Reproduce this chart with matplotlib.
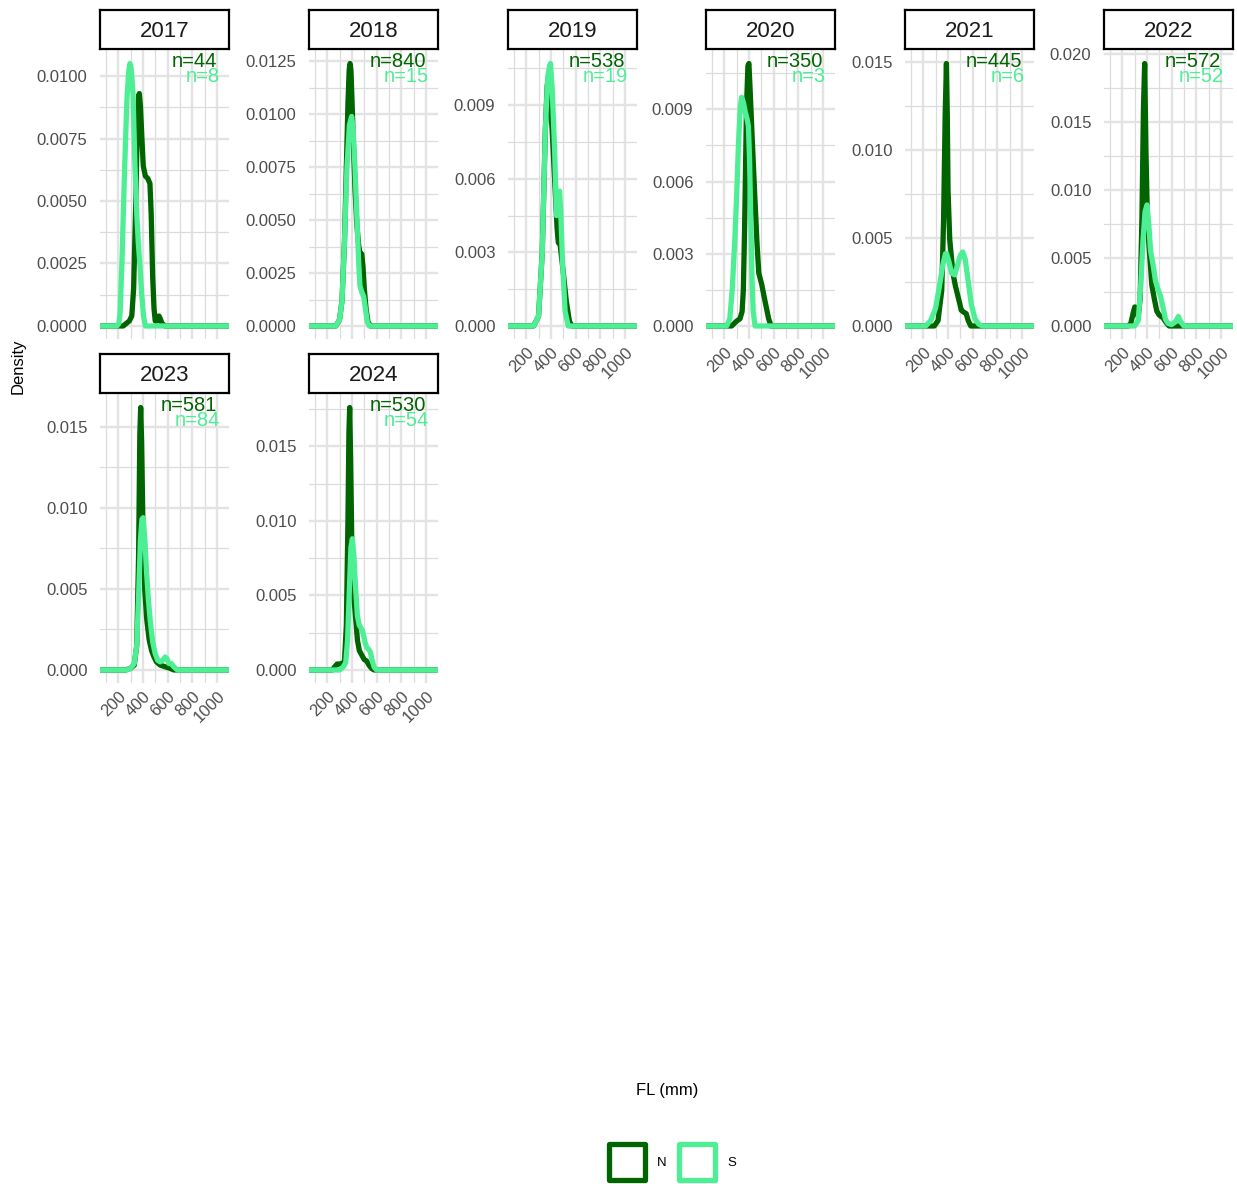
import matplotlib.pyplot as plt
from matplotlib.patches import Rectangle
from matplotlib.ticker import FixedLocator

plt.rcParams['font.family'] = ['Liberation Sans', 'DejaVu Sans']

years = [2017, 2018, 2019, 2020, 2021, 2022, 2023, 2024]
n_north = [44, 840, 538, 350, 445, 572, 581, 530]
n_south = [8, 15, 19, 3, 6, 52, 84, 54]

# density of fork length (mm), north and south, per year
fl_n_2017 = [50, 240, 290, 310, 325, 340, 355, 365, 371, 380, 392, 403, 420, 440, 457, 467, 479, 490, 500, 515, 530, 540, 555, 580, 1100]
dens_n_2017 = [0, 0, 0.0002, 0.0004, 0.0015, 0.0045, 0.0080, 0.0092, 0.0093, 0.0088, 0.0075, 0.0064, 0.006, 0.0059, 0.0057, 0.0045, 0.002, 0.0007, 0.0002, 0.0002, 0.0004, 0.0003, 0.0001, 0, 0]
fl_s_2017 = [50, 190, 205, 215, 230, 250, 270, 285, 295, 305, 320, 335, 350, 363, 375, 390, 405, 420, 1100]
dens_s_2017 = [0, 0, 0.0001, 0.0005, 0.0025, 0.006, 0.009, 0.0102, 0.0105, 0.0103, 0.0093, 0.0065, 0.0045, 0.0033, 0.0025, 0.0013, 0.0004, 0, 0]

fl_n_2018 = [50, 270, 300, 320, 340, 355, 368, 378, 385, 392, 400, 410, 425, 440, 455, 470, 480, 490, 500, 515, 530, 550, 1100]
dens_n_2018 = [0, 0, 0.0003, 0.0012, 0.004, 0.0075, 0.0105, 0.0121, 0.0124, 0.0121, 0.0108, 0.009, 0.0065, 0.0048, 0.0038, 0.0033, 0.0034, 0.0028, 0.0018, 0.0008, 0.0002, 0, 0]
fl_s_2018 = [50, 270, 300, 320, 340, 360, 380, 398, 410, 425, 440, 455, 465, 480, 495, 510, 525, 540, 1100]
dens_s_2018 = [0, 0, 0.0003, 0.0012, 0.004, 0.0075, 0.0095, 0.0099, 0.0093, 0.0075, 0.0052, 0.003, 0.0019, 0.0016, 0.0014, 0.0008, 0.0002, 0, 0]

fl_n_2019 = [50, 260, 300, 330, 355, 370, 377, 390, 410, 430, 450, 460, 475, 500, 525, 550, 570, 1100]
dens_n_2019 = [0, 0, 0.0004, 0.003, 0.008, 0.0098, 0.0100, 0.0095, 0.008, 0.006, 0.0040, 0.0034, 0.0033, 0.0022, 0.001, 0.0002, 0, 0]
fl_s_2019 = [50, 260, 300, 330, 355, 375, 390, 396, 410, 430, 445, 460, 470, 480, 495, 515, 540, 1100]
dens_s_2019 = [0, 0, 0.0004, 0.003, 0.008, 0.0102, 0.0106, 0.0107, 0.0097, 0.0072, 0.0045, 0.0050, 0.0055, 0.0046, 0.0025, 0.0006, 0, 0]

fl_n_2020 = [50, 260, 300, 328, 345, 355, 365, 380, 392, 400, 410, 425, 445, 465, 480, 490, 505, 520, 540, 560, 580, 1100]
dens_n_2020 = [0, 0, 0.0002, 0.0003, 0.0006, 0.0015, 0.004, 0.009, 0.0108, 0.0109, 0.0098, 0.008, 0.0057, 0.0035, 0.0022, 0.0020, 0.0017, 0.0013, 0.0008, 0.0003, 0, 0]
fl_s_2020 = [50, 220, 245, 265, 285, 300, 315, 330, 341, 355, 370, 385, 396, 405, 415, 425, 435, 450, 1100]
dens_s_2020 = [0, 0, 0.0003, 0.0015, 0.0035, 0.0053, 0.0075, 0.0091, 0.0095, 0.0093, 0.0089, 0.0086, 0.0083, 0.007, 0.0045, 0.002, 0.0006, 0, 0]

fl_n_2021 = [50, 290, 320, 350, 365, 378, 388, 395, 401, 415, 441, 460, 481, 495, 508, 525, 548, 565, 585, 1100]
dens_n_2021 = [0, 0, 0.0003, 0.002, 0.006, 0.012, 0.0149, 0.012, 0.0077, 0.0049, 0.003, 0.0023, 0.0017, 0.0013, 0.0009, 0.0008, 0.0007, 0.0003, 0, 0]
fl_s_2021 = [50, 220, 260, 300, 330, 360, 380, 390, 410, 430, 455, 480, 500, 520, 540, 565, 590, 620, 650, 680, 1100]
dens_s_2021 = [0, 0, 0.0003, 0.001, 0.0022, 0.0035, 0.0041, 0.0041, 0.0036, 0.003, 0.0029, 0.0035, 0.004, 0.0042, 0.0038, 0.0025, 0.0012, 0.0004, 0.0001, 0, 0]

fl_n_2022 = [50, 250, 270, 290, 302, 315, 330, 345, 360, 372, 382, 392, 405, 422, 440, 460, 480, 500, 530, 560, 580, 1100]
dens_n_2022 = [0, 0, 0.0002, 0.0010, 0.0014, 0.001, 0.0007, 0.002, 0.008, 0.016, 0.0193, 0.013, 0.0075, 0.0053, 0.003, 0.002, 0.0011, 0.0008, 0.0006, 0.0002, 0, 0]
fl_s_2022 = [50, 300, 330, 350, 370, 385, 401, 415, 430, 450, 470, 490, 510, 530, 550, 570, 600, 630, 655, 675, 700, 1100]
dens_s_2022 = [0, 0, 0.0004, 0.003, 0.0065, 0.0084, 0.0089, 0.0075, 0.0055, 0.0045, 0.0033, 0.0027, 0.0022, 0.0014, 0.0005, 0.0002, 0.0001, 0.0003, 0.0007, 0.0003, 0, 0]

fl_n_2023 = [50, 260, 300, 330, 350, 365, 375, 382, 390, 400, 415, 430, 450, 470, 490, 510, 540, 580, 620, 650, 1100]
dens_n_2023 = [0, 0, 0.0001, 0.0003, 0.0015, 0.007, 0.0145, 0.0162, 0.014, 0.009, 0.005, 0.0032, 0.0019, 0.0012, 0.0008, 0.0005, 0.0003, 0.0002, 0.0001, 0, 0]
fl_s_2023 = [50, 270, 300, 330, 350, 365, 380, 392, 402, 415, 430, 445, 460, 480, 500, 520, 540, 560, 580, 595, 610, 630, 650, 680, 710, 1100]
dens_s_2023 = [0, 0, 0.0001, 0.0004, 0.0015, 0.0045, 0.008, 0.0093, 0.0094, 0.0082, 0.006, 0.0043, 0.003, 0.0017, 0.001, 0.0006, 0.0005, 0.0006, 0.0008, 0.0007, 0.0004, 0.0004, 0.0002, 0, 0, 0]

fl_n_2024 = [50, 240, 260, 280, 300, 320, 340, 355, 368, 376, 382, 390, 400, 415, 430, 445, 460, 480, 500, 520, 540, 560, 580, 1100]
dens_n_2024 = [0, 0, 0.0002, 0.0004, 0.0004, 0.0004, 0.0006, 0.003, 0.010, 0.016, 0.0176, 0.014, 0.008, 0.005, 0.0035, 0.002, 0.0013, 0.001, 0.0007, 0.0006, 0.0003, 0.0001, 0, 0]
fl_s_2024 = [50, 300, 330, 350, 365, 380, 392, 404, 415, 430, 445, 460, 475, 490, 505, 520, 535, 550, 565, 580, 600, 1100]
dens_s_2024 = [0, 0, 0.0002, 0.0005, 0.002, 0.0055, 0.0082, 0.0088, 0.0078, 0.0055, 0.0036, 0.003, 0.0028, 0.0025, 0.0019, 0.0015, 0.0014, 0.0012, 0.0006, 0.0002, 0, 0]

north = {
    2017: (fl_n_2017, dens_n_2017), 2018: (fl_n_2018, dens_n_2018),
    2019: (fl_n_2019, dens_n_2019), 2020: (fl_n_2020, dens_n_2020),
    2021: (fl_n_2021, dens_n_2021), 2022: (fl_n_2022, dens_n_2022),
    2023: (fl_n_2023, dens_n_2023), 2024: (fl_n_2024, dens_n_2024),
}
south = {
    2017: (fl_s_2017, dens_s_2017), 2018: (fl_s_2018, dens_s_2018),
    2019: (fl_s_2019, dens_s_2019), 2020: (fl_s_2020, dens_s_2020),
    2021: (fl_s_2021, dens_s_2021), 2022: (fl_s_2022, dens_s_2022),
    2023: (fl_s_2023, dens_s_2023), 2024: (fl_s_2024, dens_s_2024),
}

# free y scales: breaks and label precision per panel
y_breaks = {
    2017: [0, 0.0025, 0.005, 0.0075, 0.01],
    2018: [0, 0.0025, 0.005, 0.0075, 0.01, 0.0125],
    2019: [0, 0.003, 0.006, 0.009],
    2020: [0, 0.003, 0.006, 0.009],
    2021: [0, 0.005, 0.01, 0.015],
    2022: [0, 0.005, 0.01, 0.015, 0.02],
    2023: [0, 0.005, 0.01, 0.015],
    2024: [0, 0.005, 0.01, 0.015],
}
y_digits = {2017: 4, 2018: 4, 2019: 3, 2020: 3, 2021: 3, 2022: 3, 2023: 3, 2024: 3}
x_breaks = [200, 400, 600, 800, 1000]
x_minor = [100, 300, 500, 700, 900]

col_n = '#006400'
col_s = '#4EEE94'
text_col = '#4D4D4D'

W, H = 1237, 1184
fig = plt.figure(figsize=(W / 100, H / 100), dpi=100)


def px_axes(left, top, w, h):
    return fig.add_axes([left / W, 1 - (top + h) / H, w / W, h / H])


col_left = [100, 309, 508, 706, 905, 1104]
row_top = [50.4, 394.4]
pw, ph = 129, 288.7
has_xlabels = {2019, 2020, 2021, 2022, 2023, 2024}

for i, yr in enumerate(years):
    r, c = divmod(i, 6)
    left, top = col_left[c], row_top[r]
    ax = px_axes(left, top, pw, ph)

    xn, yn = north[yr]
    xs, ys = south[yr]
    ax.plot(xn, yn, color=col_n, lw=3.8, solid_capstyle='round', solid_joinstyle='round')
    ax.plot(xs, ys, color=col_s, lw=3.8, solid_capstyle='round', solid_joinstyle='round')
    ax.set_xlim(52.5, 1097.5)
    ax.margins(y=0.05)

    yb = y_breaks[yr]
    step = yb[1] - yb[0]
    ax.set_yticks(yb)
    ax.set_yticklabels([f'{v:.{y_digits[yr]}f}' for v in yb])
    ax.yaxis.set_minor_locator(FixedLocator([v + step / 2 for v in [-step] + yb]))
    ax.set_xticks(x_breaks)
    ax.xaxis.set_minor_locator(FixedLocator(x_minor))
    if yr in has_xlabels:
        ax.set_xticklabels([str(v) for v in x_breaks], rotation=45, ha='right',
                           rotation_mode='anchor')
    else:
        ax.set_xticklabels([])

    ax.grid(which='major', color='#E3E3E3', lw=1.7)
    ax.grid(which='minor', color='#DCDCDC', lw=0.9)
    ax.set_axisbelow(True)
    for s in ax.spines.values():
        s.set_visible(False)
    ax.tick_params(which='both', length=0)
    ax.tick_params(axis='y', labelsize=12, labelcolor=text_col, pad=9)
    ax.tick_params(axis='x', labelsize=12, labelcolor=text_col, pad=4)

    ax.text(0.907, 0.9425, f'n={n_north[i]}', transform=ax.transAxes, ha='right',
            va='baseline', color=col_n, fontsize=14.5)
    ax.text(0.927, 0.890, f'n={n_south[i]}', transform=ax.transAxes, ha='right',
            va='baseline', color=col_s, fontsize=14.5)

    # facet strip
    st = px_axes(left, top - 40.4, pw, 39)
    st.set_xticks([])
    st.set_yticks([])
    for s in st.spines.values():
        s.set_linewidth(1.6)
        s.set_color('black')
    st.text(0.5, 0.45, str(yr), ha='center', va='center', fontsize=16,
            color='#1A1A1A', transform=st.transAxes)

# overlay in pixel units for titles and legend
ov = fig.add_axes([0, 0, 1, 1])
ov.set_xlim(0, W)
ov.set_ylim(H, 0)
ov.axis('off')
ov.text(18, 366, 'Density', rotation=90, ha='center', va='center', fontsize=12, color='black')
ov.text(667, 1091, 'FL (mm)', ha='center', va='center', fontsize=12, color='black')
for x0, col, lab in [(609, col_n, 'N'), (679, col_s, 'S')]:
    ov.add_patch(Rectangle((x0, 1144), 36, 36, fill=False, edgecolor=col, lw=3.8,
                           joinstyle='round'))
    ov.text(x0 + 48, 1163, lab, ha='left', va='center', fontsize=9.5, color='black')

fig.savefig('out.png', dpi=100)
